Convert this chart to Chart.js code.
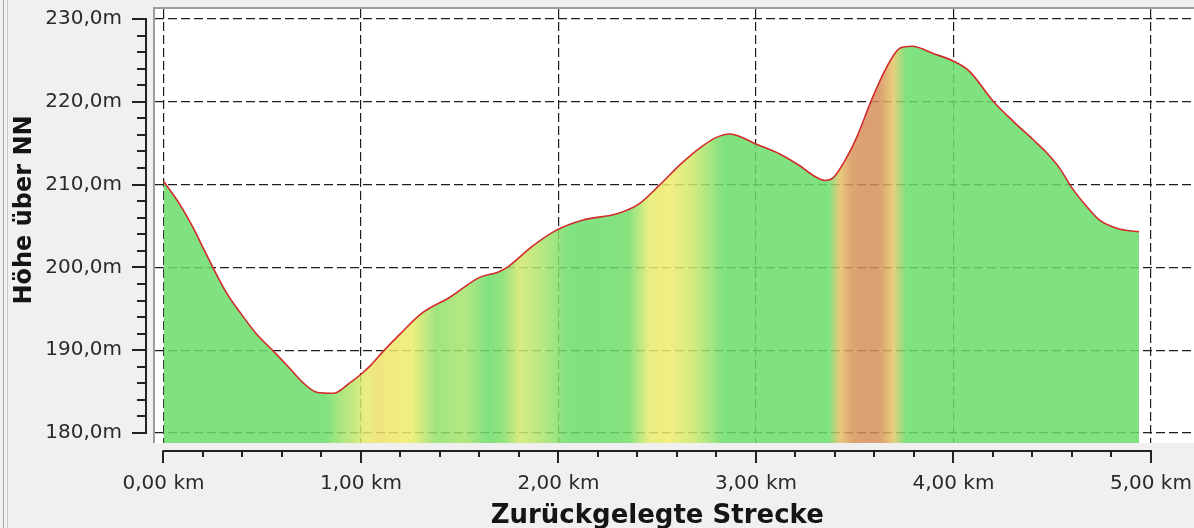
<!DOCTYPE html>
<html>
<head>
<meta charset="utf-8">
<title>Höhenprofil</title>
<script src="https://cdn.jsdelivr.net/npm/chart.js@4.4.0/dist/chart.umd.min.js"></script>
<style>
html, body { margin: 0; padding: 0; background: #f0f0f0; overflow: hidden; }
#wrap { position: relative; width: 1194px; height: 528px; }
#frame { position: absolute; left: 3px; top: 0; width: 3px; height: 528px;
         border-left: 1px solid #a8a8a8; border-right: 1px solid #c8c8c8; }
canvas { display: block; }
</style>
</head>
<body>
<div id="wrap">
  <div id="frame"></div>
  <canvas id="profileChart" width="1194" height="528"></canvas>
</div>
<script>
// distance along the track (km) and height above NN (m)
var distanceKm = [0.00, 0.08, 0.15, 0.20, 0.25, 0.32, 0.39, 0.47, 0.56, 0.64,
                  0.71, 0.78, 0.86, 0.94, 1.00, 1.05, 1.11, 1.20, 1.31, 1.45,
                  1.60, 1.69, 1.74, 1.87, 1.99, 2.12, 2.30, 2.41, 2.51, 2.62,
                  2.72, 2.80, 2.87, 2.93, 3.00, 3.12, 3.22, 3.29, 3.35, 3.39,
                  3.46, 3.51, 3.59, 3.66, 3.73, 3.79, 3.90, 4.00, 4.08, 4.20,
                  4.30, 4.40, 4.47, 4.54, 4.60, 4.68, 4.74, 4.83, 4.94];
var heightM = [210.4, 207.7, 204.8, 202.4, 200.0, 196.9, 194.5, 192.0, 189.8, 187.8,
               186.0, 184.9, 184.8, 186.0, 187.1, 188.2, 189.8, 192.0, 194.5, 196.4,
               198.8, 199.4, 200.0, 202.6, 204.5, 205.7, 206.5, 207.7, 209.9, 212.5,
               214.5, 215.7, 216.1, 215.7, 214.9, 213.7, 212.3, 211.1, 210.5, 210.8,
               213.3, 215.7, 220.5, 224.1, 226.5, 226.7, 225.8, 224.9, 223.7, 220.1,
               217.7, 215.5, 213.9, 211.9, 209.6, 207.2, 205.7, 204.7, 204.3];

var xTicksKm = [0, 1, 2, 3, 4, 5];
var yTicksM = [180, 190, 200, 210, 220, 230];

var xTitle = "Zurückgelegte Strecke";
var yTitle = "Höhe über NN";

// colours for flat/downhill, moderate and steep climbs
var flatColour = [106, 220, 106];
var climbColour = [240, 236, 108];
var steepColour = [214, 142, 90];

function mix(a, b, t) {
    var c = [];
    for (var i = 0; i < 3; i++) {
        c.push(Math.round(a[i] + (b[i] - a[i]) * t));
    }
    return "rgba(" + c[0] + "," + c[1] + "," + c[2] + ",0.85)";
}

// gradient percentage -> fill colour
function slopeColour(pct) {
    if (pct <= 1.0) return mix(flatColour, flatColour, 0);
    if (pct <= 2.3) return mix(flatColour, climbColour, (pct - 1.0) / 1.3);
    if (pct <= 5.0) return mix(climbColour, steepColour, (pct - 2.3) / 2.7);
    return mix(steepColour, steepColour, 0);
}

// horizontal gradient under the line, coloured by the slope of each stretch
function slopeFill(context) {
    var chart = context.chart;
    if (!chart.chartArea) return null;
    var xs = chart.scales.x;
    var n = distanceKm.length;
    var first = distanceKm[0], last = distanceKm[n - 1];
    var g = chart.ctx.createLinearGradient(xs.getPixelForValue(first), 0, xs.getPixelForValue(last), 0);
    for (var i = 0; i < n - 1; i++) {
        var dKm = distanceKm[i + 1] - distanceKm[i];
        var pct = (heightM[i + 1] - heightM[i]) / (dKm * 1000) * 100;
        var mid = (distanceKm[i] + distanceKm[i + 1]) / 2;
        g.addColorStop((mid - first) / (last - first), slopeColour(pct));
    }
    return g;
}

// white plot background with grey frame on left and top
var plotFrame = {
    id: 'plotFrame',
    beforeDraw: function (chart) {
        var a = chart.chartArea, ctx = chart.ctx;
        ctx.save();
        ctx.fillStyle = '#ffffff';
        ctx.fillRect(a.left, a.top, a.right - a.left, a.bottom - a.top);
        ctx.strokeStyle = '#9c9c9c';
        ctx.lineWidth = 2;
        ctx.beginPath();
        ctx.moveTo(a.left - 1, a.bottom);
        ctx.lineTo(a.left - 1, a.top - 1);
        ctx.lineTo(a.right, a.top - 1);
        ctx.stroke();
        ctx.restore();
    }
};

// detached axis lines with major/minor tick marks, plus axis titles
var axisMarks = {
    id: 'axisMarks',
    afterDraw: function (chart) {
        var ctx = chart.ctx, a = chart.chartArea;
        var xs = chart.scales.x, ys = chart.scales.y;
        var i, p;
        ctx.save();
        ctx.strokeStyle = '#222';
        ctx.lineWidth = 2;

        // y axis
        var ax = a.left - 9;
        var yTop = ys.getPixelForValue(yTicksM[yTicksM.length - 1]);
        var yBot = ys.getPixelForValue(yTicksM[0]);
        ctx.beginPath();
        ctx.moveTo(ax, yTop - 1);
        ctx.lineTo(ax, yBot + 1);
        for (i = 0; i <= 25; i++) {
            p = Math.round(ys.getPixelForValue(yTicksM[0] + i * 2));
            ctx.moveTo(ax, p);
            ctx.lineTo(ax - (i % 5 === 0 ? 14 : 9), p);
        }
        ctx.stroke();

        // x axis
        var ay = a.bottom + 8;
        var xL = xs.getPixelForValue(xTicksKm[0]);
        var xR = xs.getPixelForValue(xTicksKm[xTicksKm.length - 1]);
        ctx.beginPath();
        ctx.moveTo(xL - 1, ay);
        ctx.lineTo(xR + 1, ay);
        for (i = 0; i <= 25; i++) {
            p = Math.round(xs.getPixelForValue(xTicksKm[0] + i / 5));
            ctx.moveTo(p, ay);
            ctx.lineTo(p, ay + (i % 5 === 0 ? 12 : 6));
        }
        ctx.stroke();

        // titles
        ctx.fillStyle = '#151515';
        ctx.textAlign = 'center';
        ctx.textBaseline = 'middle';
        ctx.font = 'bold 26px "DejaVu Sans"';
        ctx.fillText(xTitle, (xL + xR) / 2, 516);
        ctx.translate(25, (yTop + yBot) / 2 - 16);
        ctx.rotate(-Math.PI / 2);
        ctx.font = 'bold 24px "DejaVu Sans"';
        ctx.fillText(yTitle, 0, 0);
        ctx.restore();
    }
};

var tickFont = { family: 'DejaVu Sans', size: 20 };

var ctx = document.getElementById('profileChart').getContext('2d');
var profileChart = new Chart(ctx, {
    type: 'line',
    data: {
        datasets: [{
            label: 'Höhe',
            data: distanceKm.map(function (d, i) { return { x: d, y: heightM[i] }; }),
            borderColor: '#d22b2b',
            borderWidth: 1.6,
            backgroundColor: slopeFill,
            fill: 'start',
            pointRadius: 0,
            cubicInterpolationMode: 'monotone'
        }]
    },
    plugins: [plotFrame, axisMarks],
    options: {
        responsive: false,
        animation: false,
        layout: { padding: { top: 9, right: 0, bottom: 0, left: 0 } },
        plugins: {
            legend: { display: false },
            tooltip: { enabled: false }
        },
        scales: {
            x: {
                type: 'linear',
                min: -0.043,
                max: 5.218,
                afterBuildTicks: function (scale) {
                    scale.ticks = xTicksKm.map(function (v) { return { value: v }; });
                },
                afterFit: function (scale) {
                    scale.height = 85;
                    scale.paddingLeft = 0;
                    scale.paddingRight = 0;
                },
                grid: { color: '#1e1e1e', lineWidth: 1.2, drawTicks: false },
                border: { display: false, dash: [9, 4] },
                ticks: {
                    padding: 29,
                    maxRotation: 0,
                    autoSkip: false,
                    color: '#2a2a2a',
                    font: tickFont,
                    callback: function (v) { return v.toFixed(2).replace('.', ',') + ' km'; }
                }
            },
            y: {
                min: 178.8,
                max: 231.2,
                afterBuildTicks: function (scale) {
                    scale.ticks = yTicksM.map(function (v) { return { value: v }; });
                },
                afterFit: function (scale) {
                    scale.width = 155;
                    scale.paddingTop = 0;
                    scale.paddingBottom = 0;
                },
                grid: { color: '#1e1e1e', lineWidth: 1.2, drawTicks: false },
                border: { display: false, dash: [9, 4] },
                ticks: {
                    padding: 33,
                    autoSkip: false,
                    color: '#2a2a2a',
                    font: tickFont,
                    callback: function (v) { return v.toFixed(1).replace('.', ',') + 'm'; }
                }
            }
        }
    }
});
</script>
</body>
</html>
